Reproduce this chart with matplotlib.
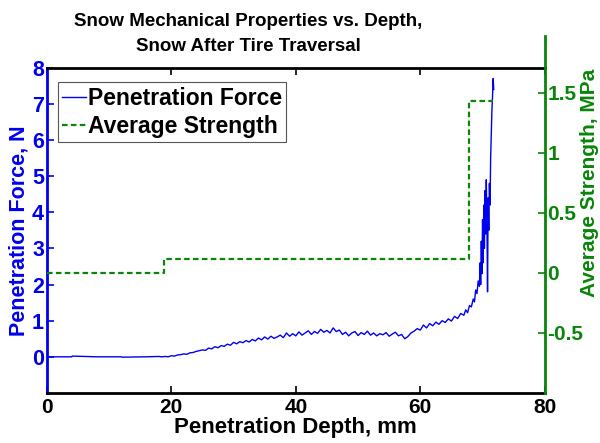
import numpy as np
import matplotlib
matplotlib.use('Agg')
from matplotlib import pyplot as plt

plt.rcParams['font.family'] = ['Liberation Sans', 'DejaVu Sans']
plt.rcParams['font.weight'] = 'bold'
plt.rcParams['axes.labelweight'] = 'bold'
plt.rcParams['axes.titleweight'] = 'bold'

# penetration force curve (mm, N)
depth_flat = [0.0, 4.0, 4.1, 8.0, 12.0, 12.1, 16.0, 18.0]
force_flat = [0.0, 0.0, 0.02, 0.0, 0.0, -0.01, 0.0, 0.01]

depth_mid = [18.5 + 0.5 * i for i in range(98)]
force_mid = [
    0.00, 0.01, 0.00, 0.03, 0.02, 0.05, 0.06, 0.08, 0.07, 0.11,
    0.12, 0.15, 0.17, 0.19, 0.18, 0.24, 0.22, 0.28, 0.25, 0.31,
    0.29, 0.35, 0.32, 0.40, 0.36, 0.42, 0.39, 0.45, 0.41, 0.48,
    0.44, 0.52, 0.47, 0.55, 0.49, 0.57, 0.51, 0.55, 0.60, 0.53,
    0.66, 0.57, 0.64, 0.58, 0.69, 0.60, 0.66, 0.72, 0.62, 0.70,
    0.65, 0.76, 0.68, 0.73, 0.66, 0.80, 0.70, 0.74, 0.62, 0.68,
    0.58, 0.66, 0.70, 0.59, 0.67, 0.62, 0.71, 0.60, 0.66, 0.58,
    0.64, 0.61, 0.67, 0.57, 0.63, 0.68, 0.58, 0.62, 0.50, 0.56,
    0.66, 0.71, 0.78, 0.74, 0.88, 0.80, 0.92, 0.86, 0.96, 0.90,
    1.00, 0.95, 1.05, 0.99, 1.12, 1.06, 1.20, 1.15,
]

depth_end = [67.3, 67.6, 67.9, 68.2, 68.5, 68.7, 68.9, 69.1, 69.3, 69.5,
             69.6, 69.7, 69.8, 69.9, 70.0, 70.1, 70.2, 70.3, 70.4, 70.5,
             70.6, 70.7, 70.8, 70.9, 71.0, 71.1, 71.2, 71.3, 71.4, 71.5,
             71.6, 71.7, 71.8]
force_end = [1.30, 1.22, 1.42, 1.38, 1.60, 1.52, 1.85, 1.75, 2.10, 1.95,
             2.6, 2.0, 3.2, 2.3, 3.8, 2.6, 4.2, 3.0, 4.6, 3.4,
             4.9, 3.8, 1.8, 4.4, 3.5, 4.8, 4.2, 5.5, 6.2, 6.8,
             7.2, 7.7, 7.4]

depth = depth_flat + depth_mid + depth_end
force = force_flat + force_mid + force_end

# average strength by layer (mm, MPa)
layer_depth = [0.0, 18.8, 67.8, 71.7]
layer_strength = [0.0, 0.117, 1.43, 1.43]

blue = '#0000ee'
green = '#0a840a'

fig = plt.figure(figsize=(6, 4.43), dpi=100)
ax = fig.add_axes([0.078, 0.113, 0.83, 0.734])
# right axis is a bit taller than the left one, like the matlab plotyy output
ax2 = fig.add_axes([0.078, 0.113, 0.83, 0.806])
ax2.patch.set_visible(False)

l1, = ax.plot(depth, force, color=blue, lw=1.0)
l2, = ax2.plot(layer_depth, layer_strength, color=green, lw=1.6,
               ls=(0, (2.5, 1.5)), drawstyle='steps-post')

ax.set_xlim(0, 80)
ax2.set_xlim(0, 80)
ax.set_ylim(-1, 8)
ax2.set_ylim(-1, 1.975)
ax.set_xticks([0, 20, 40, 60, 80])
ax.set_yticks(range(0, 9))
ax2.set_xticks([])
ax2.set_yticks([-0.5, 0, 0.5, 1, 1.5])
ax2.set_yticklabels(['-0.5', '0', '0.5', '1', '1.5'])
ax2.yaxis.tick_right()
ax2.yaxis.set_label_position('right')

ax.tick_params(axis='x', direction='in', top=True, length=5, width=1.2,
               labelsize=15, pad=4)
ax.tick_params(axis='y', direction='in', colors=blue, length=5, width=1.2,
               labelsize=15.5, pad=2)
ax2.tick_params(axis='y', direction='in', colors=green, length=5, width=1.2,
                labelsize=15, pad=2)

ax.spines['top'].set_linewidth(2)
ax.spines['bottom'].set_linewidth(2)
ax.spines['left'].set_color(blue)
ax.spines['left'].set_linewidth(2)
ax.spines['right'].set_visible(False)
for s in ['top', 'bottom', 'left']:
    ax2.spines[s].set_visible(False)
ax2.spines['right'].set_color(green)
ax2.spines['right'].set_linewidth(2)

ax.set_xlabel('Penetration Depth, mm', fontsize=16, labelpad=0)
ax.set_ylabel('Penetration Force, N', fontsize=15.5, color=blue)
ax.yaxis.set_label_coords(-0.034, 0.5)
ax2.set_ylabel('Average Strength, MPa', fontsize=15, color=green)
ax2.yaxis.set_label_coords(1.071, (393 - 183) / 357)
ax.set_title('Snow Mechanical Properties vs. Depth,\nSnow After Tire Traversal',
             fontsize=13.5, pad=12, linespacing=1.65, x=0.405)

leg = ax.legend([l1, l2], ['Penetration Force', 'Average Strength'],
                loc='upper left', bbox_to_anchor=(0.022, 0.955), fontsize=16.5,
                handlelength=1.05, handletextpad=0.1, borderpad=0.18,
                labelspacing=0.25, fancybox=False, framealpha=1,
                borderaxespad=0)
leg.get_frame().set_edgecolor('#555555')
leg.get_frame().set_linewidth(0.8)

fig.savefig('out.png', dpi=100)
